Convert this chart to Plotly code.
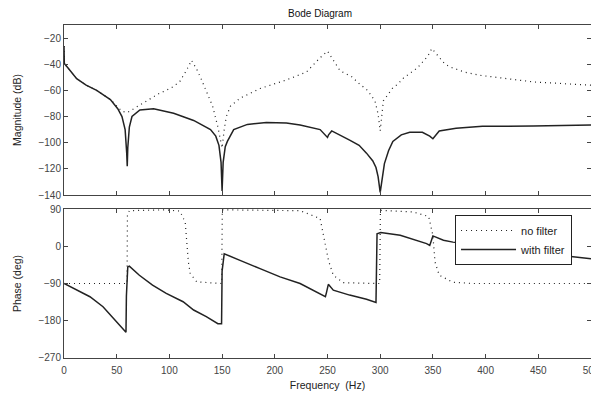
import plotly.graph_objects as go

# ---------------- data ----------------
# Magnitude, with filter (solid)
f_mag_filt = [0, 0.3, 5, 12, 21, 31, 44, 51, 55, 58, 59.5, 60, 60.5, 62, 64.5, 72, 85, 104, 123, 139, 144, 147, 149, 150, 151,
              153, 155, 161, 174, 192, 211, 224, 243, 249, 250, 251, 254, 271, 280, 287, 293, 296, 298, 300, 302, 304, 308,
              312, 320, 328, 340, 347, 350, 353, 356, 372, 397, 445, 470, 500]
mag_filt = [-26, -39.5, -44, -51, -56, -60, -67, -74, -80, -90, -108, -118, -104, -88, -80, -75, -74, -77.5, -83, -90, -95,
            -102, -115, -137, -115, -103, -99, -90, -86, -84.5, -85, -86.5, -90, -95, -96, -94, -91, -98, -102, -108, -114,
            -119, -126, -138, -125, -116, -106, -99, -94, -92, -92, -95, -97, -94, -91, -89, -87.5, -87.3, -86.7, -86.5]

# Magnitude, no filter (dotted)
f_mag_nof = [0, 0.3, 5, 12, 21, 31, 44, 51, 55, 60, 64, 69, 80, 91, 97, 104, 110, 116, 121, 126, 130, 135, 141, 146, 150,
             152, 154, 158, 167, 186, 211, 230, 243, 250, 255, 262, 274, 278, 288, 295, 298, 300, 303, 312, 317, 322, 335,
             345, 349, 355, 361, 366, 380, 395, 420, 445, 477, 500]
mag_nof = [-26, -39.5, -44, -51, -56, -60, -67, -73, -76, -77, -75, -72.6, -67.5, -62, -60, -57, -53, -45, -37, -44, -51,
           -60, -72, -88, -104, -90, -80, -72, -66, -58.6, -52, -46, -35, -30, -36, -45, -50, -53.5, -60, -68, -78, -91,
           -68, -58, -55, -50.6, -43, -34, -28, -34, -39.5, -42, -46, -48.5, -51, -53.5, -55, -56]

# Phase, with filter (solid)
f_ph_filt = [0, 12, 24.6, 37, 50, 58.8, 59.2, 60.5, 62, 71.5, 84, 97, 113, 123, 135, 146, 149.5, 150, 152, 154, 167, 186,
             205, 224, 236.5, 248, 249, 250.8, 255.5, 271, 287, 296, 297, 300.5, 319, 344, 347, 350, 360, 369, 464,
             489.5, 500]
ph_filt = [-90, -106, -122, -146, -183, -208, -120, -50, -48, -70, -94, -114, -134, -154, -170, -187, -187, -60, -18, -20,
           -34, -54, -74, -90, -106, -122, -112, -92, -106, -118, -128, -136, 30, 33, 26.5, 6.4, 2, 25, 14.5, 10, -20,
           -26, -30]

# Phase, no filter (dotted)
f_ph_nof = [0, 59.8, 60.2, 62, 96, 110, 115, 116.6, 118, 119.8, 126, 149, 149.6, 150.2, 224, 243, 249, 251, 255.5, 265,
            296, 299.5, 300.2, 331, 346, 350, 352, 356, 369, 388, 500]
ph_nof = [-90, -90, 75, 86, 88, 85, 58, 2, -38, -66, -86, -90, -90, 88, 86, 67, -14, -35, -70, -88, -90, -90, 87, 83, 72,
          26, -38, -70, -87, -90, -90]

x_ticks = [0, 50, 100, 150, 200, 250, 300, 350, 400, 450, 500]
mag_ticks = [-140, -120, -100, -80, -60, -40, -20]
ph_ticks = [-270, -180, -90, 0, 90]

# ---------------- figure ----------------
FONT = "Liberation Sans, Arial, sans-serif"
LINE = "#222222"
AX = "#444444"

fig = go.Figure()
fig.add_trace(go.Scatter(x=f_mag_nof, y=mag_nof, mode="lines", xaxis="x", yaxis="y",
                         line=dict(color=LINE, width=1.2, dash="1px,4px"), showlegend=False))
fig.add_trace(go.Scatter(x=f_mag_filt, y=mag_filt, mode="lines", xaxis="x", yaxis="y",
                         line=dict(color=LINE, width=1.5), showlegend=False))
fig.add_trace(go.Scatter(x=f_ph_nof, y=ph_nof, mode="lines", xaxis="x2", yaxis="y2", name="no filter",
                         line=dict(color=LINE, width=1.2, dash="1px,4px")))
fig.add_trace(go.Scatter(x=f_ph_filt, y=ph_filt, mode="lines", xaxis="x2", yaxis="y2", name="with filter",
                         line=dict(color=LINE, width=1.5)))

axis_common = dict(showline=True, mirror="allticks", linecolor=AX, linewidth=1, ticks="inside", ticklen=4,
                   tickcolor=AX, showgrid=False, zeroline=False, ticklabeloverflow="allow", automargin=False,
                   tickfont=dict(family=FONT, size=10, color="#444"))

TFONT = dict(family=FONT, size=10.5, color="#222")

fig.update_layout(
    width=591, height=389,
    margin=dict(l=56, r=8, t=17, b=39),
    paper_bgcolor="white", plot_bgcolor="white",
    font=dict(family=FONT, size=10, color="#222"),
    title=dict(text="Bode Diagram", xref="container", x=0.528, xanchor="center",
               yref="container", y=0.9949, yanchor="top", pad=dict(t=0, b=0),
               font=dict(family=FONT, size=10, color="#111")),
    xaxis=dict(domain=[0, 1], range=[0, 500], tickvals=x_ticks, showticklabels=False, anchor="y", **axis_common),
    yaxis=dict(domain=[0.4895, 1], range=[-140, -10], tickvals=mag_ticks, anchor="x",
               title=dict(text="Magnitude (dB)", standoff=14, font=TFONT), **axis_common),
    xaxis2=dict(domain=[0, 1], range=[0, 500], tickvals=x_ticks, anchor="y2", ticklabelstandoff=3,
                title=dict(text="Frequency  (Hz)", standoff=6, font=TFONT), **axis_common),
    yaxis2=dict(domain=[0, 0.4474], range=[-270, 90], tickvals=ph_ticks, anchor="x2",
                title=dict(text="Phase (deg)", standoff=14, font=TFONT), **axis_common),
    legend=dict(x=0.742, y=0.4294, xanchor="left", yanchor="top", bgcolor="white", bordercolor="#222",
                borderwidth=1, itemwidth=55, font=dict(family=FONT, size=11, color="#222"), tracegroupgap=0),
)

fig.write_html("out.html")
